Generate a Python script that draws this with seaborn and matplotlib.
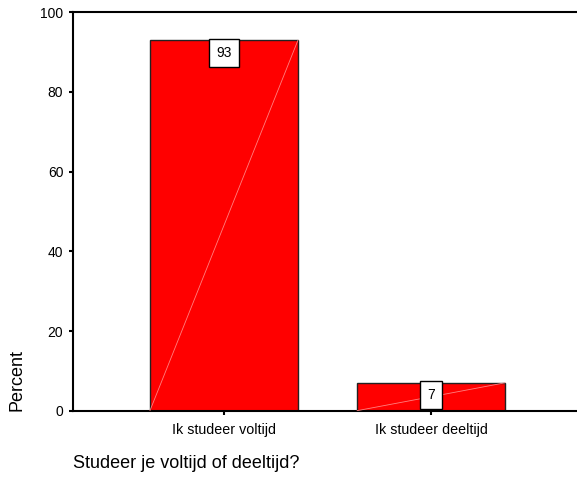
import matplotlib
matplotlib.use("Agg")
import matplotlib.pyplot as plt
import seaborn as sns
import pandas as pd

categories = ["Ik studeer voltijd", "Ik studeer deeltijd"]
percent = [93, 7]
yticks = [0, 20, 40, 60, 80, 100]
x_title = "Studeer je voltijd of deeltijd?"
y_title = "Percent"

sns.set_style("white")
plt.rcParams['font.family'] = ['Liberation Sans', 'DejaVu Sans']
plt.rcParams['text.color'] = 'black'
plt.rcParams['xtick.color'] = 'black'
plt.rcParams['ytick.color'] = 'black'
plt.rcParams['axes.labelcolor'] = 'black'

W, H = 577, 483
fig = plt.figure(figsize=(W / 100, H / 100), dpi=100)
ax = fig.add_axes([73 / W, 1 - 410.7 / H, 1 - 73 / W, (410.7 - 12.3) / H])

df = pd.DataFrame({"cat": categories, "pct": percent})
sns.barplot(data=df, x="cat", y="pct", color="#ff0000", saturation=1,
            width=0.715, edgecolor="#222222", linewidth=1.0, ax=ax, errorbar=None)

# thin diagonal line inside each bar (SPSS style)
for p in ax.patches:
    x0, w, h = p.get_x(), p.get_width(), p.get_height()
    ax.plot([x0, x0 + w], [0, h], color="#ff8080", lw=0.6, zorder=3)

# value labels in white boxes
for i, v in enumerate(percent):
    ax.annotate(str(v), xy=(i, v), xytext=(0, -9), textcoords="offset points",
                ha="center", va="center", fontsize=10, color="black", zorder=5,
                bbox=dict(boxstyle="square,pad=0.5", fc="white", ec="black", lw=1.0))

ax.set_xlim(-0.729, 1.705)
ax.set_ylim(0, 100)
ax.set_yticks(yticks)
ax.set_yticklabels([str(t) for t in yticks], fontsize=10)
ax.set_xticks([0, 1])
ax.set_xticklabels(categories, fontsize=10.3)
ax.set_xlabel("")
ax.set_ylabel("")
ax.tick_params(axis="y", direction="out", length=3, width=1.5, pad=4, left=True, colors="black")
ax.tick_params(axis="x", direction="out", length=3, width=1.5, pad=6, bottom=True, colors="black")

for s in ["left", "bottom", "top"]:
    ax.spines[s].set_visible(True)
    ax.spines[s].set_color("black")
    ax.spines[s].set_linewidth(1.5)
ax.spines["right"].set_visible(False)

fig.text(73 / W, 1 - 463 / H, x_title, ha="left", va="center", fontsize=13, color="black")
fig.text(17 / W, 1 - 410.7 / H, y_title, ha="center", va="bottom", rotation=90, fontsize=13, color="black")

fig.savefig("out.png", dpi=100)
